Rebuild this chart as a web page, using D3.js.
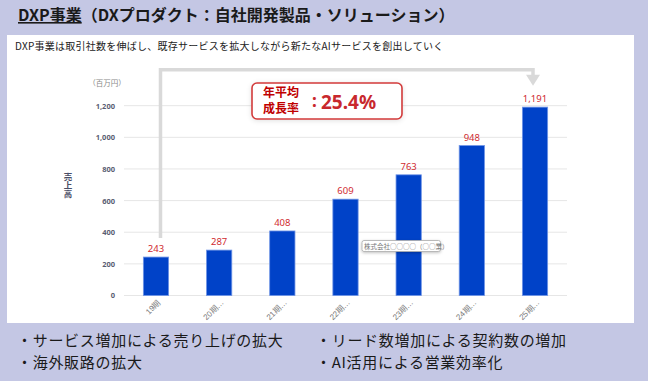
<!DOCTYPE html>
<html><head><meta charset="utf-8">
<script src="https://cdn.jsdelivr.net/npm/d3@7"></script>
<style>
html,body{margin:0;padding:0;background:#c4c7e4;}
svg{display:block;font-family:"Noto Sans CJK JP","Noto Sans",sans-serif;}
</style></head><body>
<svg id="c" width="648" height="381"></svg>
<script>
const categories = ["19期","20期…","21期…","22期…","23期…","24期…","25期…"];
const sales = [243, 287, 408, 609, 763, 948, 1191];
const yTicks = [0, 200, 400, 600, 800, 1000, 1200];
const cagrLabel = "25.4%";
const titleMain = "DXP事業";
const titleRest = "（DXプロダクト：自社開発製品・ソリューション）";
const subtitle = "DXP事業は取引社数を伸ばし、既存サービスを拡大しながら新たなAIサービスを創出していく";
const yTitle = "売上高";
const bullets = [["・サービス増加による売り上げの拡大","・海外販路の拡大"],["・リード数増加による契約数の増加","・AI活用による営業効率化"]];

const svg = d3.select("#c");
const defs = svg.append("defs");
const f = defs.append("filter").attr("id","sh").attr("x","-20%").attr("y","-40%").attr("width","140%").attr("height","180%");
f.append("feDropShadow").attr("dx",0).attr("dy",1).attr("stdDeviation",2.5).attr("flood-color","#000").attr("flood-opacity",0.12);
const f2 = defs.append("filter").attr("id","sh2").attr("x","-20%").attr("y","-60%").attr("width","140%").attr("height","220%");
f2.append("feDropShadow").attr("dx",0).attr("dy",1).attr("stdDeviation",1.5).attr("flood-color","#000").attr("flood-opacity",0.25);

// title
const t = svg.append("text").attr("x",18).attr("y",21).attr("font-size",16).attr("font-weight","bold").attr("fill","#1a1a1a");
t.append("tspan").attr("text-decoration","underline").text(titleMain);
t.append("tspan").text(titleRest);

// white panel
svg.append("rect").attr("x",7).attr("y",35).attr("width",627).attr("height",288).attr("fill","#fff");
svg.append("text").attr("x",15).attr("y",50).attr("font-size",10).attr("letter-spacing",0.25).attr("fill","#222").text(subtitle);

// scales
const x = d3.scaleBand().domain(categories).range([124.4, 566.6]).paddingInner(0.6).paddingOuter(0.3);
const y = d3.scaleLinear().domain([0, 1200]).range([295.5, 105.7]);

// grid
svg.append("g").selectAll("line").data(yTicks).join("line")
  .attr("x1",124).attr("x2",567).attr("y1",d=>y(d)).attr("y2",d=>y(d))
  .attr("stroke","#e6e6e6").attr("stroke-width",1);

// y axis
const yAxis = d3.axisLeft(y).tickValues(yTicks).tickSize(0).tickPadding(0).tickFormat(d3.format(","));
const ya = svg.append("g").attr("transform","translate(115,0)").call(yAxis);
ya.select(".domain").remove();
ya.selectAll("text").attr("font-size",7.5).attr("font-weight","bold").attr("fill","#5a5e72").attr("font-family","'Noto Sans','Noto Sans CJK JP',sans-serif");

svg.append("text").attr("x",107).attr("y",86).attr("text-anchor","middle").attr("font-size",7.5).attr("fill","#888").text("（百万円）");
svg.append("text").attr("x",68).attr("y",185).attr("text-anchor","middle")
  .style("writing-mode","vertical-rl").style("text-orientation","upright")
  .attr("font-size",8.5).attr("font-weight","bold").attr("fill","#4a4e66").text(yTitle);

// x axis
const xAxis = d3.axisBottom(x).tickSize(0).tickPadding(0);
const xa = svg.append("g").attr("transform","translate(0,296)").call(xAxis);
xa.select(".domain").remove();
xa.selectAll("text").attr("font-size",8).attr("fill","#777")
  .attr("text-anchor","end").attr("dy",0).attr("y",0)
  .attr("transform","translate(5,7) rotate(-45)");

// bracket annotation
const xl = x(categories[0]) + x.bandwidth()/2 + 4.5;
const xr = x(categories[categories.length-1]) + x.bandwidth()/2 - 2;
const yTop = y(1200) - 36;
svg.append("path").attr("d",`M${xl},${y(sales[0])-19}V${yTop}H${xr}V${yTop+6}`)
  .attr("fill","none").attr("stroke","#d9d9d9").attr("stroke-width",3.5);
svg.append("path").attr("d",`M${xr-7},${yTop+5}L${xr+7},${yTop+5}L${xr},${yTop+16}Z`).attr("fill","#d9d9d9");

// bars
svg.append("g").selectAll("rect").data(sales).join("rect")
  .attr("x",(d,i)=>x(categories[i])).attr("width",x.bandwidth())
  .attr("y",d=>y(d)).attr("height",d=>y(0)-y(d))
  .attr("fill","#0042c8").attr("stroke","#6f94e6").attr("stroke-width",0.8);

svg.append("g").selectAll("text").data(sales).join("text")
  .attr("x",(d,i)=>x(categories[i])+x.bandwidth()/2).attr("y",d=>y(d)-5)
  .attr("text-anchor","middle").attr("font-size",9.5).attr("fill","#d02a30")
  .attr("font-family","'Noto Sans','Noto Sans CJK JP',sans-serif")
  .text(d=>d3.format(",")(d));

// callout
const cb = svg.append("g");
cb.append("rect").attr("x",252).attr("y",83).attr("width",150).attr("height",36).attr("rx",5)
  .attr("fill","#fff").attr("stroke","#d23b3b").attr("stroke-width",1.6).attr("filter","url(#sh)");
cb.append("text").attr("x",281).attr("y",97).attr("text-anchor","middle").attr("font-size",12).attr("font-weight","bold").attr("fill","#c00000").text("年平均");
cb.append("text").attr("x",281).attr("y",113).attr("text-anchor","middle").attr("font-size",12).attr("font-weight","bold").attr("fill","#c00000").text("成長率");
cb.append("text").attr("x",312).attr("y",107).attr("font-size",17).attr("font-weight","bold").attr("fill","#c8282d")
  .attr("font-family","'Noto Sans',sans-serif").text(":");
cb.append("text").attr("x",321).attr("y",108.5).attr("font-size",19).attr("font-weight","bold").attr("fill","#c8282d")
  .attr("font-family","'Noto Sans',sans-serif").text(cagrLabel);

// tooltip-like label
const tb = svg.append("g");
tb.append("rect").attr("x",362).attr("y",240.5).attr("width",78.5).attr("height",11).attr("rx",2)
  .attr("fill","#fff").attr("stroke","#aaa").attr("stroke-width",0.8).attr("filter","url(#sh2)");
tb.append("text").attr("x",364).attr("y",248.8).attr("font-size",6.5).attr("fill","#777").text("株式会社○○○○（○○業）");

// bullets
bullets.forEach((col,ci)=>col.forEach((s,ri)=>{
  svg.append("text").attr("x",ci===0?17:316).attr("y",346+ri*22).attr("font-size",15).attr("letter-spacing",0.7).attr("fill","#1a1a1a").text(s);
}));
</script>
</body></html>
